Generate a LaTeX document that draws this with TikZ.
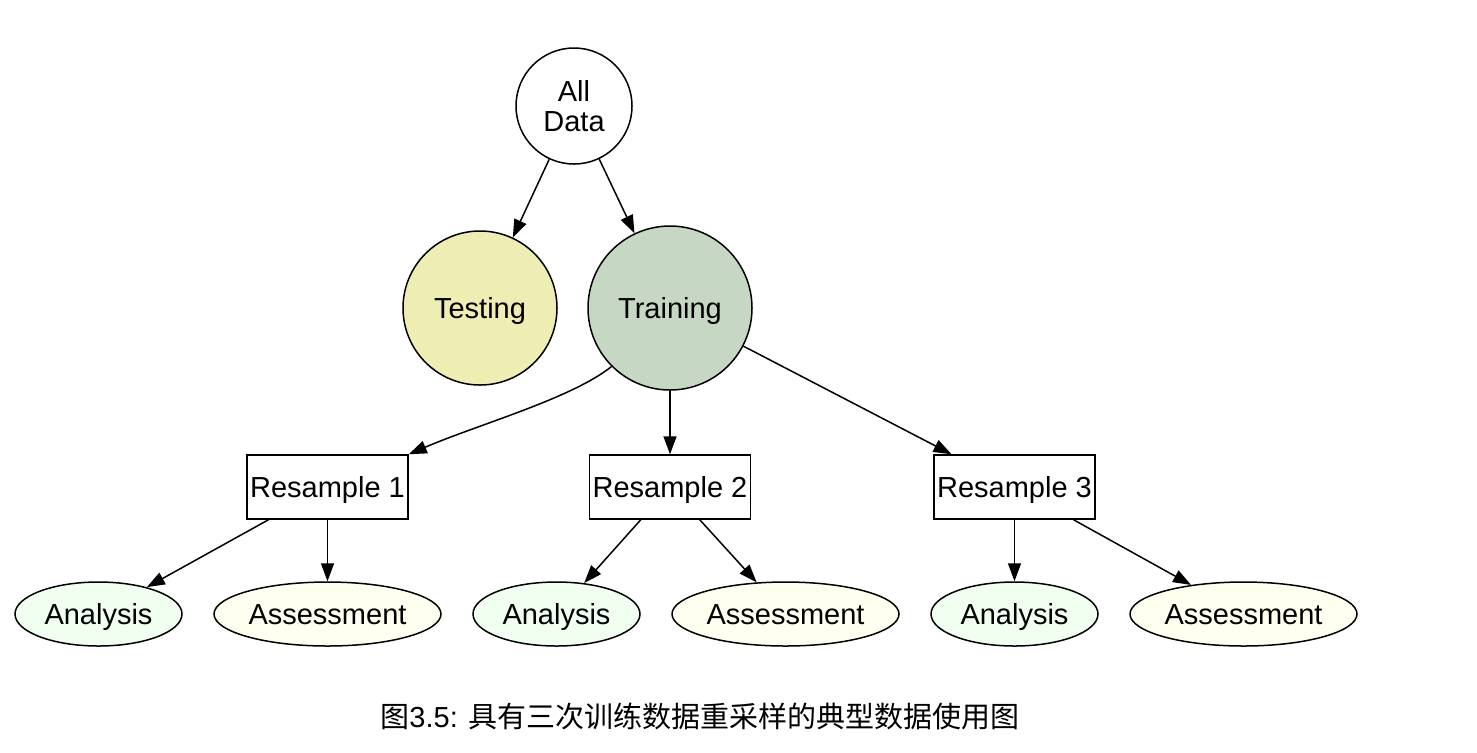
\documentclass[tikz,border=0pt]{standalone}
\usepackage{fontspec}
\setmainfont{Liberation Sans}
\newfontfamily\cjk{Noto Sans CJK SC}
\usetikzlibrary{arrows.meta,shapes.geometric}

\definecolor{testfill}{HTML}{EEEEB4}
\definecolor{trainfill}{HTML}{C6D8C3}
\definecolor{anafill}{HTML}{F0FFF0}
\definecolor{assfill}{HTML}{FFFFF0}

\tikzset{
  base/.style={draw=black, line width=0.75pt, inner sep=0pt,
    font=\fontsize{14.5}{15}\selectfont, text=black},
  oneline/.style={text height=10.4pt, text depth=0pt},
  roundnode/.style={base, circle, align=center},
  boxnode/.style={base, oneline, rectangle, minimum width=80.5pt, minimum height=32pt},
  ovalnode/.style={base, oneline, ellipse, minimum height=32pt},
  edge/.style={line width=0.75pt, -{Triangle[length=9pt,width=6.5pt]}}
}

\begin{document}
\begin{tikzpicture}[x=0.5pt,y=-0.5pt]
  \useasboundingbox (0,0) rectangle (1477,752);

  % top levels
  \node[roundnode, minimum size=58pt, fill=white] (all) at (574,106) {All\\Data};
  \node[roundnode, oneline, minimum size=77pt, fill=testfill] (test) at (480,308) {Testing};
  \node[roundnode, oneline, minimum size=82pt, fill=trainfill] (train) at (670,308) {Training};

  % resamples
  \node[boxnode, fill=white] (r1) at (327.5,487) {Resample 1};
  \node[boxnode, fill=white] (r2) at (670,487) {Resample 2};
  \node[boxnode, fill=white] (r3) at (1014.5,487) {Resample 3};

  % analysis / assessment sets
  \node[ovalnode, minimum width=83.5pt, fill=anafill] (a1) at (98.5,614) {Analysis};
  \node[ovalnode, minimum width=113.5pt, fill=assfill] (s1) at (327.5,614) {Assessment};
  \node[ovalnode, minimum width=83.5pt, fill=anafill] (a2) at (556.5,614) {Analysis};
  \node[ovalnode, minimum width=113.5pt, fill=assfill] (s2) at (785.5,614) {Assessment};
  \node[ovalnode, minimum width=83.5pt, fill=anafill] (a3) at (1014.5,614) {Analysis};
  \node[ovalnode, minimum width=113.5pt, fill=assfill] (s3) at (1243.5,614) {Assessment};

  % connectors
  \draw[edge] (all) -- (test);
  \draw[edge] (all) -- (train);
  \draw[edge] (train.225) .. controls +(-40,32) and +(70,-30) .. (r1.north east);
  \draw[edge] (train) -- (r2);
  \draw[edge] (train) -- (r3);
  \draw[edge] (r1) -- (a1);
  \draw[edge] (r1) -- (s1);
  \draw[edge] (r2) -- (a2);
  \draw[edge] (r2) -- (s2);
  \draw[edge] (r3) -- (a3);
  \draw[edge] (r3) -- (s3);

  % caption
  \node[font=\fontsize{14.5}{16}\selectfont, inner sep=0pt] (cap) at (700,716)
    {{\cjk 图}3.5: {\cjk 具有三次训练数据重采样的典型数据使用图}};
\end{tikzpicture}
\end{document}
